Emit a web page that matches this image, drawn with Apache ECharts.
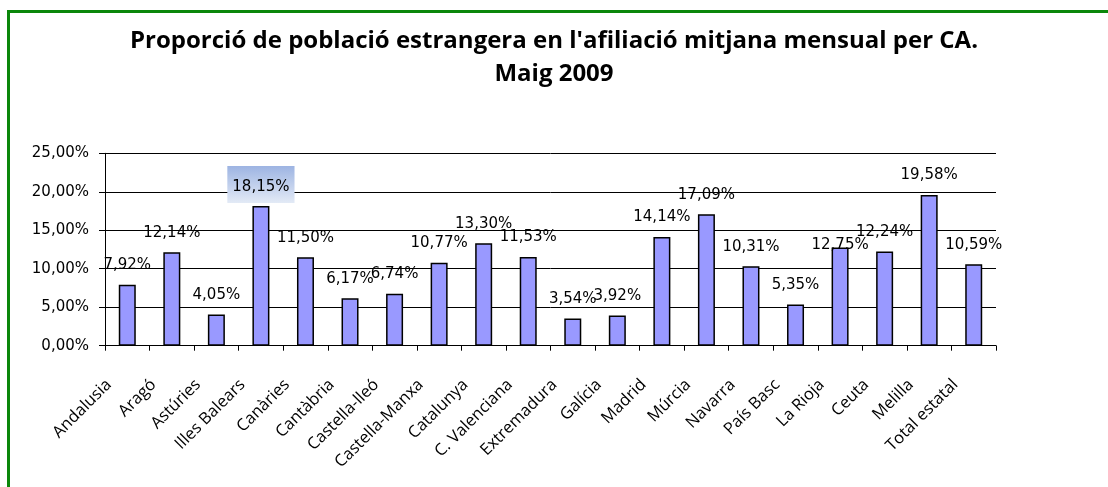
<!DOCTYPE html>
<html>
<head>
<meta charset="utf-8">
<script src="https://cdn.jsdelivr.net/npm/echarts@6/dist/echarts.min.js"></script>
<style>
html,body{margin:0;padding:0;background:#fff;}
#chart{width:1108px;height:487px;}
</style>
</head>
<body>
<div id="chart"></div>
<script>
var categories = ["Andalusia","Aragó","Astúries","Illes Balears","Canàries","Cantàbria","Castella-lleó","Castella-Manxa","Catalunya","C. Valenciana","Extremadura","Galícia","Madrid","Múrcia","Navarra","País Basc","La Rioja","Ceuta","Melilla","Total estatal"];
var values = [7.92,12.14,4.05,18.15,11.50,6.17,6.74,10.77,13.30,11.53,3.54,3.92,14.14,17.09,10.31,5.35,12.75,12.24,19.58,10.59];
var yTicks = [0,5,10,15,20,25];
var titleLines = ["Proporció de població estrangera en l'afiliació mitjana mensual per CA.","Maig 2009"];

function pct(v){ return v.toFixed(2).replace('.', ',') + '%'; }

var chart = echarts.init(document.getElementById('chart'));
var seriesData = values.map(function(v, i){
  var d = {value: v};
  if (i === 3) {
    d.label = {
      distance: 3,
      backgroundColor: new echarts.graphic.LinearGradient(0,0,0,1,[{offset:0,color:'#9DB4E2'},{offset:1,color:'#E3EAF6'}]),
      padding: [14, 5, 8, 5]
    };
  }
  if (i === 16) {
    d.label = { offset: [0, 17] };
  }
  return d;
});

chart.setOption({
  animation: false,
  backgroundColor: '#fff',
  title: {
    text: titleLines.join('\n'),
    left: 'center',
    top: 20,
    textStyle: {fontFamily: 'Open Sans', fontWeight: 'bold', fontSize: 24, lineHeight: 33, color: '#000'}
  },
  graphic: [{
    type: 'rect', silent: true, z: 100,
    shape: {x: 8.5, y: 11.5, width: 1200, height: 600},
    style: {fill: 'none', stroke: '#0B870B', lineWidth: 3}
  }],
  grid: {left: 105, right: 112, top: 153.3, bottom: 141.3, containLabel: false},
  xAxis: {
    type: 'category',
    data: categories,
    boundaryGap: true,
    axisLine: {lineStyle: {color: '#000', width: 1}},
    axisTick: {show: true, length: 5, alignWithLabel: false, lineStyle: {color: '#000'}},
    axisLabel: {rotate: 45, interval: 0, margin: 18, padding: [0, 26, 0, 0], fontFamily: 'Open Sans', fontSize: 16.5, color: '#000'}
  },
  yAxis: {
    type: 'value',
    min: yTicks[0], max: yTicks[yTicks.length - 1], interval: 5,
    axisLine: {show: true, lineStyle: {color: '#000', width: 1}},
    axisTick: {show: true, length: 6, lineStyle: {color: '#000'}},
    splitLine: {show: true, lineStyle: {color: '#000', width: 1}},
    axisLabel: {formatter: function(v){ return pct(v); }, margin: 16, fontFamily: 'DejaVu Sans', fontSize: 15, color: '#000'}
  },
  series: [{
    type: 'bar',
    data: seriesData,
    barWidth: 17,
    itemStyle: {color: '#9999FF', borderColor: '#000', borderWidth: 1.5},
    label: {show: true, position: 'top', distance: 12, formatter: function(p){ return pct(p.value); }, fontFamily: 'DejaVu Sans', fontSize: 15, color: '#000'}
  }]
});
</script>
</body>
</html>
